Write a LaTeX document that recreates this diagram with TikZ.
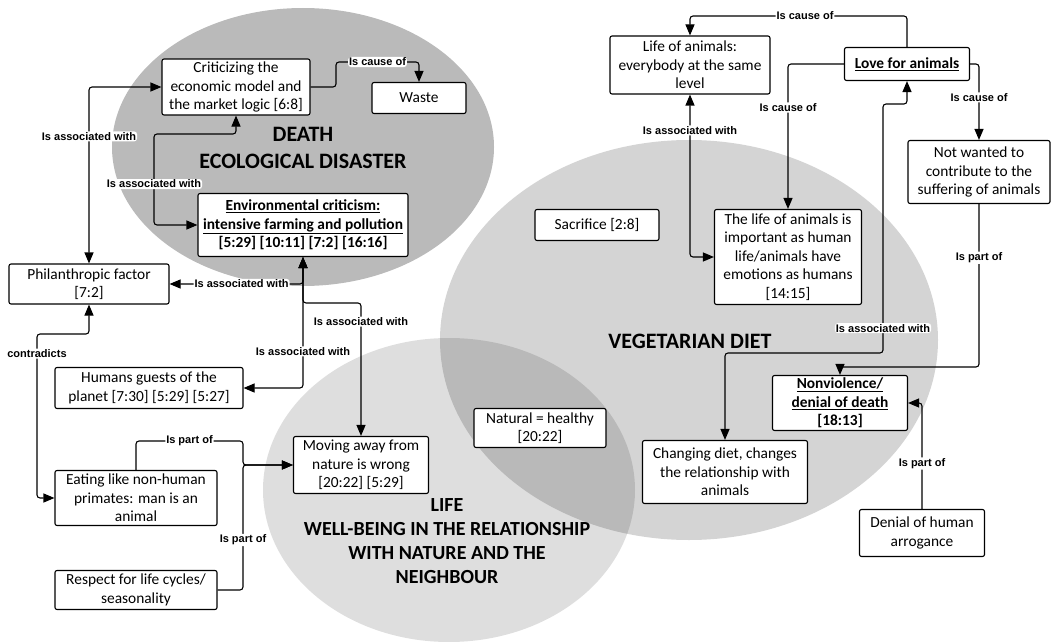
\documentclass[tikz,border=0pt]{standalone}
\usepackage{fontspec}
\setmainfont{Carlito}
\newfontfamily\lblfont{Liberation Sans}
\usetikzlibrary{arrows.meta}

\begin{document}
\begin{tikzpicture}[x=1pt,y=-1pt,>={Triangle[length=11pt,width=9pt]}]
\tikzstyle{box}=[draw,line width=1.1pt,fill=white,rounded corners=2pt,align=center,inner sep=1pt,font=\fontsize{15.4pt}{18.4pt}\selectfont];
\tikzstyle{bbox}=[box,font=\bfseries\fontsize{15.4pt}{18.4pt}\selectfont];
\tikzstyle{lab}=[fill=white,inner sep=1pt,font=\lblfont\bfseries\fontsize{11pt}{13pt}\selectfont];
\tikzstyle{ttl}=[align=center,font=\bfseries\fontsize{22pt}{27pt}\selectfont];
\tikzstyle{conn}=[line width=1.1pt,rounded corners=3pt];
\useasboundingbox (0,0) rectangle (1053,642);
% the three fields
\fill[black,opacity=0.27] (303,147) ellipse [x radius=191pt,y radius=139pt];
\fill[black,opacity=0.17] (689,340) ellipse [x radius=249pt,y radius=200pt];
\fill[black,opacity=0.13] (449,490) ellipse [x radius=186pt,y radius=152pt];
\node[ttl] (death) at (303,148) {DEATH\\ECOLOGICAL DISASTER};
\node[ttl] (veg) at (690,341) {VEGETARIAN DIET};
\node[ttl,font=\bfseries\fontsize{20pt}{24pt}\selectfont] (life) at (447,541) {LIFE\\WELL-BEING IN THE RELATIONSHIP\\WITH NATURE AND THE\\NEIGHBOUR};
% left part
\node[box,minimum width=148pt,minimum height=56pt] (crit) at (236,87) {Criticizing the\\economic model and\\the market logic [6:8]};
\node[box,minimum width=94pt,minimum height=31pt] (waste) at (419,98) {Waste};
\node[bbox,minimum width=210pt,minimum height=63pt] (env) at (303,225) {\underline{Environmental criticism:}\\\underline{intensive farming and pollution}\\{}[5:29] [10:11] [7:2] [16:16]};
\node[box,minimum width=160pt,minimum height=40pt] (phil) at (89,284) {Philanthropic factor\\{}[7:2]};
\node[box,minimum width=188pt,minimum height=41pt] (humans) at (149,388) {Humans guests of the\\planet [7:30] [5:29] [5:27]};
\node[box,minimum width=162pt,minimum height=55pt] (eating) at (136,498) {Eating like non-human\\primates: man is an\\animal};
\node[box,minimum width=162pt,minimum height=39pt] (respect) at (136,590) {Respect for life cycles/\\seasonality};
\node[box,minimum width=135pt,minimum height=57pt] (moving) at (361,465) {Moving away from\\nature is wrong\\{}[20:22] [5:29]};
\node[box,minimum width=132pt,minimum height=39pt] (natural) at (540,428) {Natural = healthy\\{}[20:22]};
% right part
\node[box,minimum width=160pt,minimum height=58pt] (lifeanim) at (690,65) {Life of animals:\\everybody at the same\\level};
\node[bbox,minimum width=125pt,minimum height=33pt] (love) at (907,64) {\underline{Love for animals}};
\node[box,minimum width=142pt,minimum height=63pt] (notwant) at (979,172) {Not wanted to\\contribute to the\\suffering of animals};
\node[box,minimum width=124pt,minimum height=31pt] (sacr) at (597,225) {Sacrifice [2:8]};
\node[box,minimum width=147pt,minimum height=95pt] (important) at (788,257) {The life of animals is\\important as human\\life/animals have\\emotions as humans\\{}[14:15]};
\node[bbox,minimum width=135pt,minimum height=55pt] (nonviol) at (840,403) {\underline{Nonviolence/}\\\underline{denial of death}\\{}[18:13]};
\node[box,minimum width=165pt,minimum height=63pt] (changing) at (725,472) {Changing diet, changes\\the relationship with\\animals};
\node[box,minimum width=125pt,minimum height=47pt] (denial) at (922,533) {Denial of human\\arrogance};
% links
\draw[conn,->] (crit.east) -- (336,87) -- (336,62) -- node[lab]{Is cause of} (419,62) -- (waste.north);
\draw[conn,<->] (phil.north) |- node[lab,pos=0.36]{Is associated with} (crit.west);
\draw[conn,<->] (env.west) -- (154,225) -- node[lab,pos=0.45]{Is associated with} (154,134) -| (crit.south);
\draw[conn,<->] (env.south) |- node[lab,pos=0.73]{Is associated with} (phil.east);
\draw[conn,<->] (env.south) -- (303,303) -| node[lab,pos=0.57]{Is associated with} (moving.north);
\draw[conn,<->] (env.south) |- node[lab,pos=0.36]{Is associated with} (humans.east);
\draw[conn,<->] (phil.south) -- (89,334) -- (37,334) -- node[lab,pos=0.12]{contradicts} (37,498) -- (eating.west);
\draw[conn,->] (eating.north) |- node[lab,pos=0.75]{Is part of} (243,441) |- (moving.west);
\draw[conn,->] (respect.east) -| node[lab,pos=0.7]{Is part of} (243,465) -- (moving.west);
\draw[conn,->] (love.north) -- (907,16) -| node[lab,pos=0.235]{Is cause of} (lifeanim.north);
\draw[conn,->] (love.west) -| node[lab,pos=0.65]{Is cause of} (important.north);
\draw[conn,<->] (lifeanim.south) |- node[lab,pos=0.11]{Is associated with} (important.west);
\draw[conn,->] (love.east) -| node[lab,pos=0.72]{Is cause of} (notwant.north);
\draw[conn,->] (notwant.south) -- node[lab,pos=0.33]{Is part of} (979,367) -| (nonviol.north);
\draw[conn,<->] (love.south) -- (907,104) -- (883,104) -- node[lab,pos=0.9]{Is associated with} (883,353) -| (changing.north);
\draw[conn,->] (denial.north) |- node[lab,pos=0.215]{Is part of} (nonviol.east);
\end{tikzpicture}
\end{document}
